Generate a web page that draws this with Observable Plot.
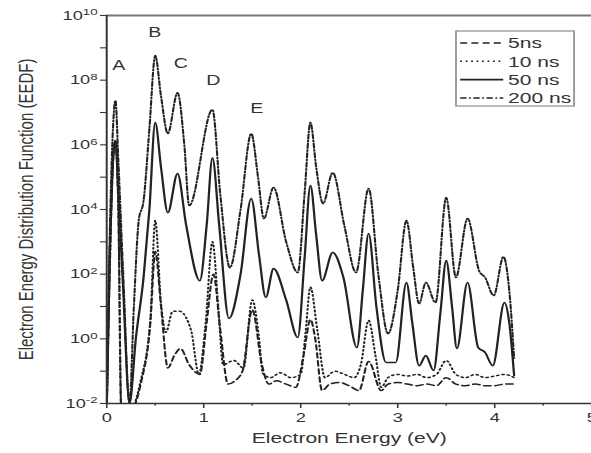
<!DOCTYPE html>
<html><head><meta charset="utf-8">
<script src="https://cdn.jsdelivr.net/npm/d3@7"></script>
<script src="https://cdn.jsdelivr.net/npm/@observablehq/plot@0.6"></script>
<style>
html,body{margin:0;padding:0;background:#fff;}
#chart{width:591px;height:453px;overflow:hidden;}
</style></head><body><div id="chart"></div>
<script>
// Series names (legend order)
const seriesNames = ["5ns", "10 ns", "50 ns", "200 ns"];

// [electron energy (eV), log10(EEDF)]
const eedf5ns = [[0,-2.2],[0.03,2],[0.06,5.2],[0.09,6.15],[0.12,4],[0.15,-2.2],[0.25,-2.2],[0.35,-1.4],[0.45,0.5],[0.5,2.7],[0.56,1.0],[0.63,-0.9],[0.7,-0.5],[0.76,-0.3],[0.85,-0.8],[0.96,-1.1],[1.03,0.5],[1.1,2.0],[1.17,0.3],[1.25,-1.4],[1.32,-1.3],[1.4,-1.0],[1.5,0.9],[1.6,-0.8],[1.67,-1.4],[1.75,-1.3],[1.85,-1.4],[1.95,-1.5],[2.03,-0.5],[2.1,0.6],[2.15,0.0],[2.22,-1.6],[2.3,-1.4],[2.4,-1.35],[2.5,-1.45],[2.6,-1.6],[2.7,-0.7],[2.83,-1.6],[2.9,-1.4],[3.0,-1.35],[3.1,-1.4],[3.2,-1.45],[3.3,-1.4],[3.4,-1.45],[3.5,-1.2],[3.6,-1.4],[3.7,-1.45],[3.8,-1.4],[3.9,-1.45],[4.0,-1.45],[4.1,-1.4],[4.2,-1.4]];
const eedf10ns = [[0,-2.2],[0.03,2],[0.06,5.2],[0.09,6.1],[0.12,4],[0.15,-2.2],[0.24,-2.2],[0.35,-1.3],[0.45,0.6],[0.5,3.66],[0.56,1.1],[0.61,0.2],[0.68,0.85],[0.75,0.85],[0.87,0.26],[0.95,-1.1],[1.02,0.5],[1.09,3.0],[1.15,1.0],[1.2,-0.8],[1.31,-0.67],[1.41,-0.9],[1.5,1.2],[1.57,0.04],[1.61,-1.07],[1.69,-1.2],[1.79,-1.05],[1.9,-1.2],[2.0,-1.1],[2.05,0.2],[2.1,1.6],[2.17,0.3],[2.25,-1.2],[2.35,-1.0],[2.45,-1.1],[2.55,-1.2],[2.62,-0.8],[2.7,0.57],[2.77,-0.5],[2.83,-1.5],[2.9,-1.2],[3.0,-1.1],[3.1,-1.15],[3.2,-1.1],[3.3,-1.2],[3.4,-1.1],[3.5,-0.67],[3.6,-1.1],[3.7,-1.2],[3.8,-1.1],[3.9,-1.2],[4.0,-1.15],[4.1,-1.1],[4.2,-1.2]];
const eedf50ns = [[0,-2.2],[0.03,2.5],[0.06,5.3],[0.09,6.13],[0.12,4.5],[0.17,1.5],[0.235,-2.0],[0.3,0.0],[0.38,1.9],[0.44,4.0],[0.5,6.69],[0.56,5.3],[0.63,3.9],[0.73,5.11],[0.82,3.5],[0.96,1.8],[1.03,3.5],[1.09,5.6],[1.16,3.5],[1.26,0.63],[1.38,2.0],[1.49,4.34],[1.57,2.6],[1.64,1.28],[1.72,2.17],[1.85,1.2],[1.97,0.04],[2.04,2.5],[2.1,4.74],[2.16,3.2],[2.22,1.8],[2.33,2.67],[2.44,1.9],[2.58,-0.27],[2.64,1.5],[2.7,3.26],[2.78,1.0],[2.88,-0.73],[2.98,-0.73],[3.09,1.74],[3.15,0.5],[3.22,-0.83],[3.29,-0.52],[3.37,-0.98],[3.44,0.8],[3.5,2.42],[3.56,1.0],[3.61,-0.3],[3.72,1.74],[3.83,-0.27],[3.9,-0.42],[3.98,-0.83],[4.1,1.12],[4.15,0.5],[4.2,-1.13]];
const eedf200ns = [[0,-2.2],[0.03,3.0],[0.06,6.2],[0.09,7.37],[0.12,5.5],[0.17,2.0],[0.235,-2.0],[0.28,1.0],[0.33,3.66],[0.38,4.27],[0.44,6.5],[0.5,8.76],[0.56,7.5],[0.63,6.35],[0.73,7.61],[0.8,6.0],[0.85,4.12],[1.09,7.09],[1.17,4.5],[1.27,2.2],[1.38,4.0],[1.49,6.35],[1.56,5.0],[1.62,3.72],[1.72,4.68],[1.85,3.0],[1.97,2.05],[2.04,4.5],[2.1,6.69],[2.16,5.3],[2.23,4.18],[2.33,5.14],[2.45,3.5],[2.57,2.05],[2.7,4.65],[2.8,2.0],[2.9,0.16],[3.0,1.5],[3.09,3.66],[3.16,2.2],[3.22,1.09],[3.29,1.74],[3.39,1.12],[3.5,4.37],[3.6,1.9],[3.72,3.72],[3.84,2.1],[3.9,1.9],[3.99,1.34],[4.09,2.54],[4.15,1.5],[4.2,-0.6]];

// Axis ticks
const xTicksMajor = [0, 1, 2, 3, 4, 5];
const xTicksMinor = [0.5, 1.5, 2.5, 3.5, 4.5];
const yTickExponents = [-2,-1,0,1,2,3,4,5,6,7,8,9,10];

// Peak annotation letters (x in eV, log10 EEDF)
const peakLetters = ["A", "B", "C", "D", "E"];
const peakLetterX = [0.124, 0.495, 0.763, 1.10, 1.546];
const peakLetterLogY = [8.45, 9.47, 8.51, 7.98, 7.12];

const xTitle = "Electron Energy (eV)";
const yTitle = "Electron Energy Distribution Function (EEDF)";

// Styles
const seriesDash = ["5,3", "1.3,2.6", "none", "4.5,1.8,1.3,1.8"];
const seriesWidth = [1.5, 1.5, 1.6, 1.5];

const seriesData = [eedf5ns, eedf10ns, eedf50ns, eedf200ns];
const tables = seriesData.map((arr, i) => arr.map(([x, ly]) => ({series: seriesNames[i], x, y: Math.pow(10, ly)})));
const letters = peakLetters.map((t, i) => ({t, x: peakLetterX[i], y: Math.pow(10, peakLetterLogY[i])}));

const W = 422, H = 453, REALW = 591;

function legendMark(index, scales, values, dims) {
  const g = d3.create("svg:g");
  const bx = 325.6, by = 31, bw = 84.3, bh = 75;
  g.append("rect").attr("x", bx).attr("y", by).attr("width", bw).attr("height", bh)
    .attr("fill", "white").attr("stroke", "#8c8c8c").attr("stroke-width", 1.2);
  seriesNames.forEach((name, i) => {
    const cy = 43 + i * 18.3;
    g.append("line").attr("x1", 328.6).attr("x2", 359.3).attr("y1", cy).attr("y2", cy)
      .attr("stroke", "#222").attr("stroke-width", seriesWidth[i])
      .attr("stroke-dasharray", seriesDash[i]);
    g.append("text").attr("x", 362.8).attr("y", cy).attr("dy", "0.36em")
      .attr("text-anchor", "start")
      .attr("font-size", 15).attr("fill", "#333").text(name);
  });
  return g.node();
}

const plot = Plot.plot({
  width: W, height: H,
  marginLeft: 75.7, marginRight: 0, marginTop: 15, marginBottom: 50,
  style: {fontFamily: "'Liberation Sans', Arial, Helvetica, sans-serif", fontSize: "13px", color: "#333", background: "white", overflow: "visible"},
  x: {domain: [0, 5], label: null},
  y: {type: "log", domain: [1e-2, 1e10], label: null},
  marks: [
    ...tables.map((t, i) => Plot.line(t, {x: "x", y: "y", curve: "monotone-x", stroke: "#222", strokeWidth: seriesWidth[i], strokeDasharray: seriesDash[i] === "none" ? undefined : seriesDash[i], clip: true})),
    Plot.ruleY([1e10], {stroke: "#777", strokeWidth: 2}),
    Plot.ruleX([0], {stroke: "#333", strokeWidth: 1.4}),
    Plot.ruleY([1e-2], {stroke: "#333", strokeWidth: 1.6}),
    Plot.axisY({ticks: yTickExponents.map(e => Math.pow(10, e)), tickSize: 4.3, tickPadding: 2.2, fontSize: 13, stroke: "#333", strokeWidth: 1.1, fill: "#333",
      tickFormat: d => { const e = Math.round(Math.log10(d)); return e % 2 === 0 ? String(e) : ""; }, label: null}),
    Plot.axisX({ticks: xTicksMinor, tickSize: 2.5, tickFormat: () => "", stroke: "#333", strokeWidth: 1.1, label: null}),
    Plot.axisX({ticks: xTicksMajor, tickSize: 5, tickPadding: 4.5, fontSize: 13, stroke: "#333", strokeWidth: 1.1, fill: "#333", tickFormat: d => String(d), label: null}),
    Plot.text(letters, {x: "x", y: "y", text: "t", fontSize: 14, fill: "#333"}),
    Plot.text([xTitle], {frameAnchor: "bottom", dy: 39, fontSize: 15, fill: "#333"}),
    Plot.text([yTitle], {frameAnchor: "left", textAnchor: "middle", rotate: -90, dx: -57.5, fontSize: 15, fill: "#333"}),
    legendMark
  ]
});

plot.setAttribute("width", REALW);
plot.setAttribute("height", H);
plot.setAttribute("viewBox", `0 0 ${W} ${H}`);
plot.setAttribute("preserveAspectRatio", "none");
plot.style.width = REALW + "px";
plot.style.height = H + "px";
plot.style.maxWidth = "none";

// superscript exponents on y tick labels
d3.select(plot).selectAll('g[aria-label="y-axis tick label"] text').each(function() {
  const t = this.textContent;
  if (!t) return;
  this.textContent = "10";
  const ts = document.createElementNS("http://www.w3.org/2000/svg", "tspan");
  ts.setAttribute("dy", "-0.45em");
  ts.setAttribute("font-size", "9.5");
  ts.textContent = t;
  this.appendChild(ts);
});

document.getElementById("chart").appendChild(plot);
</script>
</body></html>
